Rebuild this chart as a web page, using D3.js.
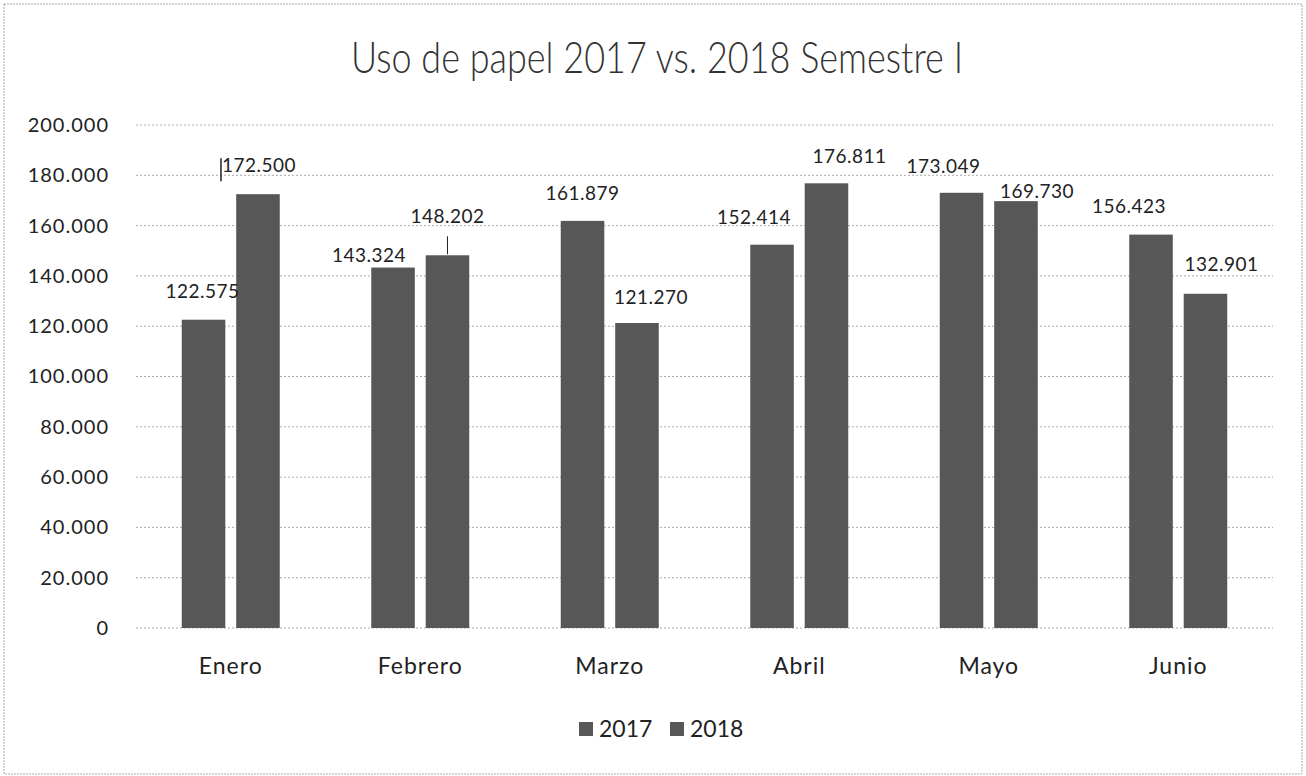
<!DOCTYPE html>
<html>
<head>
<meta charset="utf-8">
<script src="https://cdn.jsdelivr.net/npm/d3@7"></script>
<style>
  body { margin: 0; background: #fff; }
  svg { display: block; font-family: Lato, "Open Sans", sans-serif; }
</style>
</head>
<body>
<div id="chart"></div>
<script>
const months = ["Enero", "Febrero", "Marzo", "Abril", "Mayo", "Junio"];
const series = ["2017", "2018"];
const values2017 = [122575, 143324, 161879, 152414, 173049, 156423];
const values2018 = [172500, 148202, 121270, 176811, 169730, 132901];
const yTicks = [0, 20000, 40000, 60000, 80000, 100000, 120000, 140000, 160000, 180000, 200000];

// hand-placed data labels in the original (offset from bar top centre)
const labelDx2017 = [-1, -24, 0, -18, -18, -22];
const labelDy2017 = [-28, -12, -28, -27, -26, -28];
const labelDx2018 = [1, 0, 14, 23, 21, 16];
const labelDy2018 = [-29, -39, -26, -27, -10, -29];

const width = 1306, height = 776;
const margin = {top: 125, right: 33, bottom: 148, left: 136};
const innerW = width - margin.left - margin.right,
      innerH = height - margin.top - margin.bottom;

const locale = d3.formatLocale({decimal: ",", thousands: ".", grouping: [3], currency: ["", ""]});
const fmt = locale.format(",d");

const svg = d3.select("#chart").append("svg")
  .attr("width", width)
  .attr("height", height);

// outer frame
svg.append("rect")
  .attr("x", 4).attr("y", 4)
  .attr("width", 1298).attr("height", 770)
  .attr("fill", "none")
  .attr("stroke", "#aaa")
  .attr("stroke-dasharray", "2,1");

svg.append("text")
  .attr("transform", "translate(657,73) scale(1,1.2)")
  .attr("text-anchor", "middle")
  .style("font-size", "36px")
  .style("font-weight", 300)
  .style("fill", "#333")
  .text("Uso de papel 2017 vs. 2018 Semestre I");

const g = svg.append("g")
  .attr("transform", "translate(" + margin.left + "," + margin.top + ")");

const x = d3.scaleBand()
  .domain(months)
  .range([0, innerW]);

const xInner = d3.scaleBand()
  .domain(series)
  .range([0, 98])
  .paddingInner(0.2);

const y = d3.scaleLinear()
  .domain([0, 200000])
  .range([innerH, 0]);

// gridlines
g.append("g")
  .selectAll("line")
  .data(yTicks)
  .enter()
  .append("line")
    .attr("x1", 0)
    .attr("x2", innerW)
    .attr("y1", function(d) { return y(d); })
    .attr("y2", function(d) { return y(d); })
    .attr("stroke", "#aaa")
    .attr("stroke-dasharray", "2,2");

// y axis
const yAxis = g.append("g")
  .attr("transform", "translate(-24,0)")
  .call(d3.axisLeft(y).tickValues(yTicks).tickFormat(fmt).tickSize(0));
yAxis.select(".domain").remove();
yAxis.selectAll("text")
  .style("font-size", "20px")
  .style("letter-spacing", "1px")
  .style("font-family", "Lato, sans-serif")
  .style("fill", "#222");

// x axis
const xAxis = g.append("g")
  .attr("transform", "translate(0," + innerH + ")")
  .call(d3.axisBottom(x).tickSize(0));
xAxis.select(".domain").remove();
xAxis.selectAll("text")
  .attr("y", 38)
  .attr("dy", "0.35em")
  .style("font-size", "23px")
  .style("letter-spacing", "1px")
  .style("font-family", "Lato, sans-serif")
  .style("fill", "#222");

const rows = months.map(function(m, i) {
  return {month: m, vals: [
    {s: "2017", v: values2017[i], dx: labelDx2017[i], dy: labelDy2017[i]},
    {s: "2018", v: values2018[i], dx: labelDx2018[i], dy: labelDy2018[i]}
  ]};
});

const groups = g.selectAll(".grp")
  .data(rows)
  .enter()
  .append("g")
    .attr("class", "grp")
    .attr("transform", function(d) {
      return "translate(" + (x(d.month) + x.bandwidth() / 2 - 49) + ",0)";
    });

groups.selectAll("rect")
  .data(function(d) { return d.vals; })
  .enter()
  .append("rect")
    .attr("x", function(d) { return xInner(d.s); })
    .attr("width", xInner.bandwidth())
    .attr("y", function(d) { return y(d.v); })
    .attr("height", function(d) { return innerH - y(d.v); })
    .attr("fill", "#575757");

function labelX(d) { return xInner(d.s) + xInner.bandwidth() / 2 + d.dx; }
function labelY(d) { return y(d.v) + d.dy; }

groups.selectAll(".lbl")
  .data(function(d) { return d.vals; })
  .enter()
  .append("text")
    .attr("class", "lbl")
    .attr("x", labelX)
    .attr("y", labelY)
    .attr("dy", "0.35em")
    .attr("text-anchor", "middle")
    .style("font-size", "19px")
    .style("letter-spacing", "0.5px")
    .style("fill", "#222")
    .text(function(d) { return fmt(d.v); });

// small leader marks left on two labels
const enero18 = rows[0].vals[1], feb18 = rows[1].vals[1];
groups.filter(function(d) { return d.month === "Enero"; })
  .append("line")
    .attr("x1", labelX(enero18) - 38).attr("x2", labelX(enero18) - 38)
    .attr("y1", labelY(enero18) - 7).attr("y2", labelY(enero18) + 16)
    .attr("stroke", "#222").attr("stroke-width", 1.5);
groups.filter(function(d) { return d.month === "Febrero"; })
  .append("line")
    .attr("x1", labelX(feb18)).attr("x2", labelX(feb18))
    .attr("y1", labelY(feb18) + 20).attr("y2", y(feb18.v) - 1)
    .attr("stroke", "#222").attr("stroke-width", 1);

// legend
const legend = svg.append("g")
  .attr("transform", "translate(579,737)");
const item = legend.selectAll("g")
  .data(series)
  .enter()
  .append("g")
    .attr("transform", function(d, i) { return "translate(" + (i * 91) + ",0)"; });
item.append("rect")
  .attr("x", 0).attr("y", -15)
  .attr("width", 14).attr("height", 14)
  .attr("fill", "#575757");
item.append("text")
  .attr("x", 20).attr("y", 0)
  .style("font-size", "23px")
  .style("fill", "#222")
  .text(function(d) { return d; });
</script>
</body>
</html>
